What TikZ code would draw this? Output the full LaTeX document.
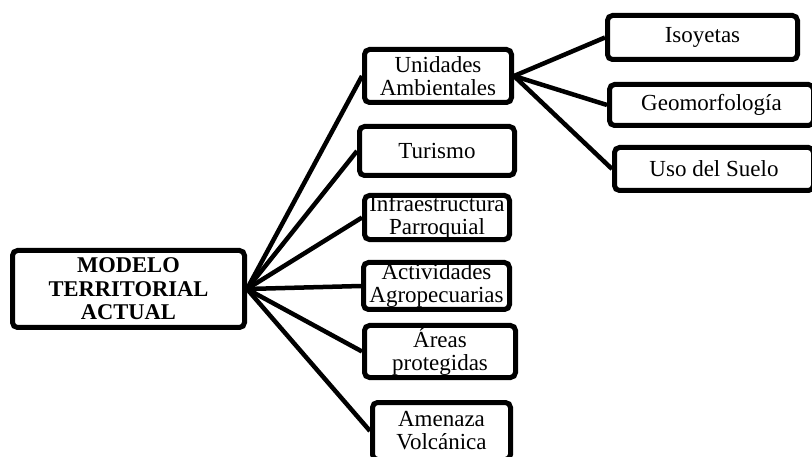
\documentclass[tikz,border=0pt]{standalone}
\usepackage{fontspec}
\setmainfont{Liberation Serif}
\usetikzlibrary{positioning}

\begin{document}
\begin{tikzpicture}[
		x=1pt, y=-1pt,
		box/.style={draw, rounded corners=5pt, line width=5pt, align=center,
			inner sep=0pt, font=\fontsize{23}{23}\selectfont},
		link/.style={line width=4.5pt}
		]
		\useasboundingbox (0,0) rectangle (812,457);
		
		\node[box, minimum width=232pt, minimum height=77pt,
			font=\fontsize{22.5}{23.5}\selectfont\bfseries] (modelo) at (128.5,289)
			{MODELO\\TERRITORIAL\\ACTUAL};
		
		\node[box, minimum width=147pt, minimum height=53pt] (unidades) at (438,76)
			{Unidades\\Ambientales};
		\node[box, minimum width=155pt, minimum height=49pt] (turismo) at (437,151)
			{Turismo};
		\node[box, minimum width=145pt, minimum height=44pt] (infra) at (437,217.5)
			{Infraestructura\\Parroquial};
		\node[box, minimum width=146pt, minimum height=47pt] (activ) at (436.5,286)
			{Actividades\\Agropecuarias};
		\node[box, minimum width=151pt, minimum height=52pt] (areas) at (440,351.5)
			{Áreas\\protegidas};
		\node[box, minimum width=138pt, minimum height=57pt] (amenaza) at (441.5,431)
			{Amenaza\\Volcánica};
		
		\node[box, minimum width=190pt, minimum height=44pt] (isoyetas) at (702.5,37.5)
			{Isoyetas};
		\node[box, minimum width=204pt, minimum height=41pt] (geomorf) at (711.5,105)
			{Geomorfología};
		\node[box, minimum width=199pt, minimum height=43pt] (uso) at (714,169)
			{Uso del Suelo};
		
		\path[link] (modelo.east) edge (unidades.west);
		\path[link] (modelo.east) edge (turismo.west);
		\path[link] (modelo.east) edge (infra.west);
		\path[link] (modelo.east) edge (activ.west);
		\path[link] (modelo.east) edge (areas.west);
		\path[link] (modelo.east) edge (amenaza.west);
		
		\path[link] (unidades.east) edge (isoyetas.west);
		\path[link] (unidades.east) edge (geomorf.west);
		\path[link] (unidades.east) edge (uso.west);
		
	\end{tikzpicture}
\end{document}
